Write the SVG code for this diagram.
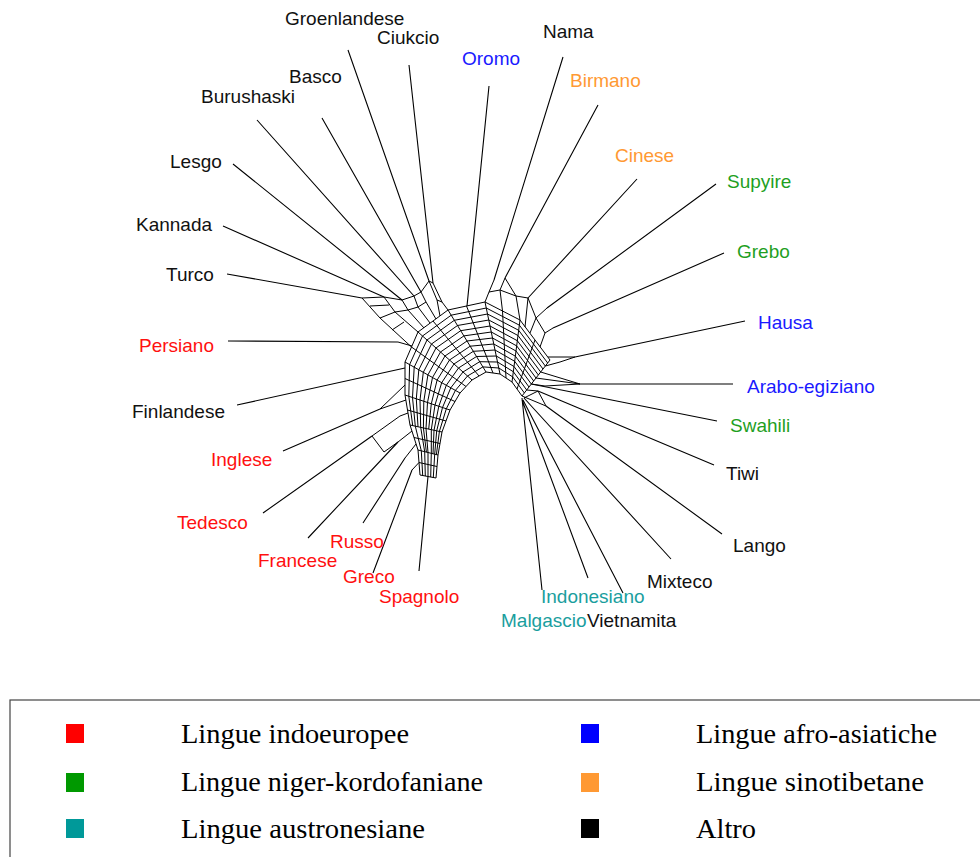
<svg xmlns="http://www.w3.org/2000/svg" width="980" height="857" viewBox="0 0 980 857">
<style>
.lbl{font-family:"Liberation Sans",Arial,sans-serif;font-size:19px}
.k{fill:#111}.r{fill:#ff1010}.b{fill:#1a1aff}.g{fill:#1f9f1f}.o{fill:#ff9933}.t{fill:#1a9e9e}
.e{fill:none;stroke:#000;stroke-width:1.1;stroke-linejoin:round}
.m{fill:none;stroke:#000;stroke-width:1;stroke-linejoin:round}
.leg{font-family:"Liberation Serif","Times New Roman",serif;font-size:28px;fill:#000}
</style>
<rect width="980" height="857" fill="#fff"/>
<g id="connectors">
<g id="network">
<polyline class="m" points="436,478 438,455 442,432 450,410 460,393 472,380 486,372 500,374 512,382 522,396"/>
<polyline class="m" points="436.4,454.6 439.4,431.4 446.3,408.8 455.4,390.4 467.5,376 482.9,366.9 498.8,368 512.7,376.9 524.4,393"/>
<polyline class="m" points="433.3,477.5 434.7,454.2 436.7,430.8 442.5,407.5 450.8,387.8 463,372 479.7,361.7 497.5,362 513.3,371.7 526.7,390"/>
<polyline class="m" points="433,453.8 434,430.3 438.8,406.3 446.3,385.3 458.5,368 476.5,356.5 496.3,356 514,366.5 529,387"/>
<polyline class="m" points="430.7,477 431.3,453.3 431.3,429.7 435,405 441.7,382.7 454,364 473.3,351.3 495,350 514.7,361.3 531.3,384"/>
<polyline class="m" points="428.7,429.1 431.3,403.8 437.1,380.1 449.5,360 470.2,346.2 493.8,344 515.4,356.2 533.7,381"/>
<polyline class="m" points="428,476.5 428,452.5 426,428.5 427.5,402.5 432.5,377.5 445,356 467,341 492.5,338 516,351 536,378"/>
<polyline class="m" points="426.4,452.1 423.4,427.9 423.8,401.3 427.9,374.9 440.5,352 463.9,335.9 491.3,332 516.7,345.9 538.4,375"/>
<polyline class="m" points="425.3,476 424.7,451.7 420.7,427.3 420,400 423.3,372.3 436,348 460.7,330.7 490,326 517.3,340.7 540.7,372"/>
<polyline class="m" points="418,426.8 416.3,398.8 418.8,369.8 431.5,344 457.5,325.5 488.8,320 518,335.5 543,369"/>
<polyline class="m" points="422.7,475.5 421.3,450.8 415.3,426.2 412.5,397.5 414.2,367.2 427,340 454.3,320.3 487.5,314 518.7,330.3 545.3,366"/>
<polyline class="m" points="412.7,425.6 408.8,396.3 409.6,364.6 422.5,336 451.2,315.2 486.3,308 519.4,325.2 547.7,363"/>
<polyline class="m" points="420,475 418,450 410,425 405,395 405,362 418,332 448,310 485,302 520,320 550,360"/>
<path class="m" d="M436,478L420,475M438,455L418,450M442,432L410,425M450,410L405,395M460,393L405,362M472,380L418,332M486,372L448,310M500,374L485,302M512,382L520,320M522,396L550,360"/>
<path class="m" d="M437,466.5L419,462.5M440,443.5L414,437.5M446,421L407.5,410M455,401.5L405,378.5M466,386.5L411.5,347M479,376L433,321M493,373L466.5,306M506,378L502.5,311M517,389L535,340"/>
<!-- upper-left fan -->
<polyline class="m" points="380,318 395,312 408,310 418,307 426,302"/>
<polyline class="m" points="384,297 402,300 414,296 421,292 429,281"/>
<path class="m" d="M362,298L380,318L411.5,347M384,297L395,312L418,332M402,300L408,310L424,328M414,296L418,307L430,323M421,292L426,302L436,319M362,298L384,297M370,306L389,305M392,330L404,322"/>
<!-- top -->
<path class="m" d="M429,281L437,300L440,316M433,283L442,302L448,310M429,281L433,283M437,300L442,302"/>
<!-- Nama / Birmano -->
<path class="m" d="M494,280L489,292L485,302M505,278L500,290L502.5,311M489,292L500,290M505,278L516,296L520,320M500,290L516,296M516,296L528,298"/>
<!-- right fans -->
<path class="m" d="M528,298L525,327M547,308L536,318L530,333M553,328L545,333L540,347M536,318L545,333M528,298L536,318M575,357L548,357M575,357L560,362L545.3,366"/>
<path class="m" d="M580,384L540.7,372M580,384L536,378M580,384L545,386L531.3,384"/>
<!-- lower right -->
<path class="m" d="M538,391L526.7,390M546,406L522,396M546,406L538,391M524,398L538,391"/>
<!-- lower left -->
<path class="m" d="M412,470L419,462.5M405,458L416,444M398,442L412,431M372,436L400,416L408,413M372,436L384,452L398,442M380,409L406,400M380,409L405,385M398,342L412,346"/>
</g>
<g id="leaves">
<path class="e" d="M348,50L429,281M409,65L433,283M489,86L467,306M563,57L494,280M598,105L505,278M637,179L528,298M716,184L547,308M724,253L553,328M745,321L575,357M733,384L580,384M717,421L531.3,384M714,465L538,391M722,534L546,406M671,559L524,398M623,593L523,400M588,578L522,400M542,590L522,398M419,571L428,476.5M373,573L412,470M363,523L405,458M308,538L398,442M263,513L372,436M283,451L380,409M237,405L405,368M228,341L398,342M227,274L362,298M223,226L384,297M233,164L402,300M257,120L414,296M322,118L421,292"/>
</g>
</g>
<g id="n-groenlandese"><text class="lbl k" x="285" y="25">Groenlandese</text></g>
<g id="n-ciukcio"><text class="lbl k" x="377" y="44">Ciukcio</text></g>
<g id="n-basco"><text class="lbl k" x="289" y="83">Basco</text></g>
<g id="n-burushaski"><text class="lbl k" x="201" y="103">Burushaski</text></g>
<g id="n-lesgo"><text class="lbl k" x="170" y="168">Lesgo</text></g>
<g id="n-kannada"><text class="lbl k" x="136" y="231">Kannada</text></g>
<g id="n-turco"><text class="lbl k" x="166" y="281">Turco</text></g>
<g id="n-oromo"><text class="lbl b" x="462" y="65">Oromo</text></g>
<g id="n-nama"><text class="lbl k" x="543" y="38">Nama</text></g>
<g id="n-birmano"><text class="lbl o" x="570" y="87">Birmano</text></g>
<g id="n-cinese"><text class="lbl o" x="615" y="162">Cinese</text></g>
<g id="n-supyire"><text class="lbl g" x="727" y="188">Supyire</text></g>
<g id="n-grebo"><text class="lbl g" x="737" y="258">Grebo</text></g>
<g id="n-hausa"><text class="lbl b" x="758" y="329">Hausa</text></g>
<g id="n-arabo"><text class="lbl b" x="747" y="393">Arabo-egiziano</text></g>
<g id="n-swahili"><text class="lbl g" x="730" y="432">Swahili</text></g>
<g id="n-tiwi"><text class="lbl k" x="726" y="480">Tiwi</text></g>
<g id="n-lango"><text class="lbl k" x="733" y="552">Lango</text></g>
<g id="n-mixteco"><text class="lbl k" x="647" y="588">Mixteco</text></g>
<g id="n-indonesiano"><text class="lbl t" x="541" y="603">Indonesiano</text></g>
<g id="n-malgascio"><text class="lbl t" x="501" y="627">Malgascio</text></g>
<g id="n-vietnamita"><text class="lbl k" x="587" y="627">Vietnamita</text></g>
<g id="n-spagnolo"><text class="lbl r" x="379" y="603">Spagnolo</text></g>
<g id="n-greco"><text class="lbl r" x="343" y="583">Greco</text></g>
<g id="n-russo"><text class="lbl r" x="330" y="548">Russo</text></g>
<g id="n-francese"><text class="lbl r" x="258" y="567">Francese</text></g>
<g id="n-tedesco"><text class="lbl r" x="177" y="529">Tedesco</text></g>
<g id="n-inglese"><text class="lbl r" x="211" y="466">Inglese</text></g>
<g id="n-finlandese"><text class="lbl k" x="132" y="418">Finlandese</text></g>
<g id="n-persiano"><text class="lbl r" x="139" y="352">Persiano</text></g>
<g id="legend">
<rect x="10" y="700" width="980" height="170" fill="none" stroke="#444" stroke-width="1.2"/>
<rect x="66" y="724" width="18" height="19" fill="#ff0000"/>
<rect x="66" y="773" width="18" height="19" fill="#009900"/>
<rect x="66" y="819" width="18" height="19" fill="#009999"/>
<rect x="581" y="724" width="18" height="19" fill="#0000ff"/>
<rect x="581" y="773" width="18" height="19" fill="#ff9933"/>
<rect x="581" y="819" width="18" height="19" fill="#000"/>
<text class="leg" x="181" y="743" textLength="228" lengthAdjust="spacingAndGlyphs">Lingue indoeuropee</text>
<text class="leg" x="181" y="791" textLength="302" lengthAdjust="spacingAndGlyphs">Lingue niger-kordofaniane</text>
<text class="leg" x="181" y="838" textLength="244" lengthAdjust="spacingAndGlyphs">Lingue austronesiane</text>
<text class="leg" x="696" y="743" textLength="241" lengthAdjust="spacingAndGlyphs">Lingue afro-asiatiche</text>
<text class="leg" x="696" y="791" textLength="228" lengthAdjust="spacingAndGlyphs">Lingue sinotibetane</text>
<text class="leg" x="696" y="838" textLength="60" lengthAdjust="spacingAndGlyphs">Altro</text>
</g>
</svg>
